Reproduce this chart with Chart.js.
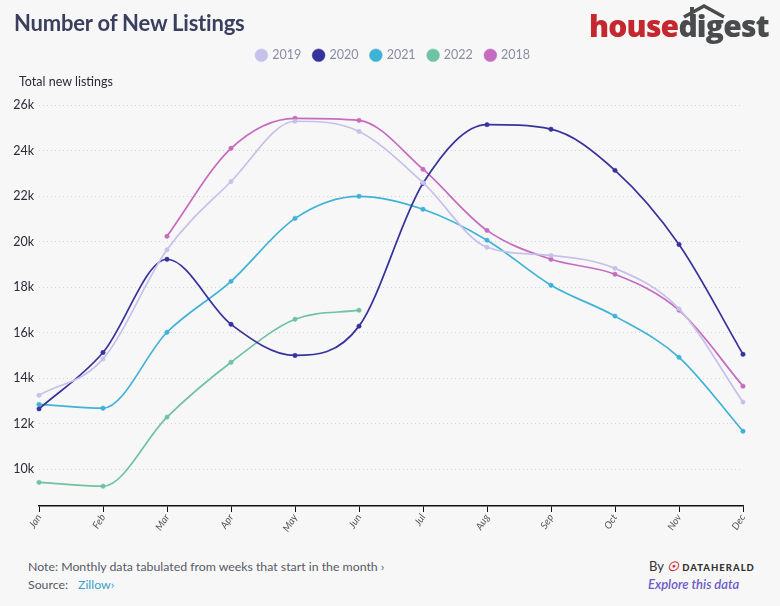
<!DOCTYPE html>
<html>
<head>
<meta charset="utf-8">
<script src="https://cdn.jsdelivr.net/npm/chart.js@4.4.1/dist/chart.umd.min.js"></script>
<style>
  html,body{margin:0;padding:0;background:#f7f7f7;}
  body{width:780px;height:606px;position:relative;overflow:hidden;font-family:Lato,"Noto Sans",sans-serif;}
  #wrap{position:absolute;left:0;top:0;width:780px;height:545px;}
  .title{position:absolute;left:14px;top:9px;font-size:22px;font-weight:700;color:#3b3f5e;letter-spacing:-0.2px;}
  .ylab{position:absolute;left:19px;top:74px;font-size:12.5px;color:#2b2b35;}
  .logo{position:absolute;left:589px;top:9px;font-family:"Open Sans",Lato,sans-serif;font-size:30px;font-weight:800;letter-spacing:-0.8px;line-height:34px;}
  .logo .h{color:#c4282e;} .logo .d{color:#4a4b4c;}
  .roof{position:absolute;left:681px;top:3px;}
  .note{position:absolute;left:28px;top:559px;font-size:12.3px;color:#555a66;}
  .src{position:absolute;left:28px;top:577px;font-size:12.3px;color:#555a66;}
  .src a{color:#3a9fcc;text-decoration:none;margin-left:10px;}
  .by{position:absolute;left:649px;top:558px;font-size:13px;color:#333;}
  .by b{font-size:9.5px;letter-spacing:1px;color:#333;font-weight:900;}
  .exp{position:absolute;left:648px;top:576px;font-size:13px;color:#6a5ac8;font-style:italic;font-weight:600;}
</style>
</head>
<body>
<div id="wrap"><canvas id="c"></canvas></div>
<div class="title">Number of New Listings</div>
<div class="ylab">Total new listings</div>
<svg class="roof" width="46" height="16" viewBox="0 0 46 16"><path d="M3 14 L23 3 L43 14" stroke="#4a4b4c" stroke-width="3.5" fill="none"/><rect x="9" y="4" width="4" height="6" fill="#4a4b4c"/></svg>
<div class="logo"><span class="h">house</span><span class="d">digest</span></div>
<div class="note">Note: Monthly data tabulated from weeks that start in the month ›</div>
<div class="src">Source:<a>Zillow›</a></div>
<div class="by">By <span style="color:#d6323a;font-weight:900;font-style:italic;">&#x2609;</span> <b>DATAHERALD</b></div>
<div class="exp">Explore this data</div>
<script>
const months = ["Jan","Feb","Mar","Apr","May","Jun","Jul","Aug","Sep","Oct","Nov","Dec"];
const yTicks = [10000,12000,14000,16000,18000,20000,22000,24000,26000];
const s2019 = [13250,14850,19650,22650,25300,24850,22600,19760,19400,18830,17050,12950];
const s2020 = [12650,15130,19230,16370,15000,16290,22570,25150,24950,23140,19880,15050];
const s2021 = [12850,12680,16020,18260,21030,22000,21430,20070,18090,16730,14920,11670];
const s2022 = [9420,9250,12290,14700,16590,16990,null,null,null,null,null,null];
const s2018 = [null,null,20240,24110,25430,25340,23190,20500,19230,18570,16990,13650];

function ds(label, data, color){
  return {label, data, borderColor: color, backgroundColor: color,
    pointBackgroundColor: color, pointBorderColor: color,
    pointRadius: 2.2, pointBorderWidth: 0.5, pointHoverRadius: 3, borderWidth: 1.7,
    cubicInterpolationMode: 'monotone', spanGaps: false};
}
const legendPad = {id:'legendPad',
  beforeInit(chart){
    const f = chart.legend.fit;
    chart.legend.fit = function(){ f.call(this); this.height += 27; };
  },
  afterLayout(chart){
    chart.legend.left += 22; chart.legend.right += 22;
  }
};
new Chart(document.getElementById('c'), {
  type: 'line',
  data: {labels: months, datasets: [
    ds('2019', s2019, '#c6c1eb'),
    ds('2020', s2020, '#37339c'),
    ds('2021', s2021, '#3fb2d6'),
    ds('2022', s2022, '#6fc2a2'),
    ds('2018', s2018, '#c56cc0')
  ]},
  options: {
    responsive: true, maintainAspectRatio: false, animation: false,
    layout: {padding: {left: 0, right: 37, top: 36, bottom: 0}},
    plugins: {
      legend: {position: 'top', align: 'center',
        labels: {usePointStyle: true, pointStyle: 'circle', boxWidth: 9, boxHeight: 9, padding: 13,
          color: '#8b8ca3', font: {family: 'Lato', size: 12.5}}},
      tooltip: {enabled: false}
    },
    scales: {
      x: {
        offset: false,
        grid: {display: true, drawOnChartArea: false, drawTicks: true, tickLength: 6, color: '#111', lineWidth: 1},
        border: {display: true, color: '#111', width: 1.5},
        ticks: {color: '#555', font: {family: 'Lato', size: 10, style: 'italic'}, minRotation: 58, maxRotation: 58, padding: 0, autoSkip: false},
        afterFit(s){ s.height = 39; }
      },
      y: {
        min: 8380, max: 26300,
        afterBuildTicks(s){ s.ticks = yTicks.map(v => ({value: v})); },
        grid: {display: true, drawTicks: false, color: '#d2d2dc', lineWidth: 1},
        border: {display: false, dash: [1,3]},
        ticks: {color: '#2b2b35', font: {family: 'Lato', size: 12.5}, padding: 5,
          callback: v => (v/1000) + 'k'},
        afterFit(s){ s.width = 39; }
      }
    }
  },
  plugins: [legendPad]
});
</script>
</body>
</html>
